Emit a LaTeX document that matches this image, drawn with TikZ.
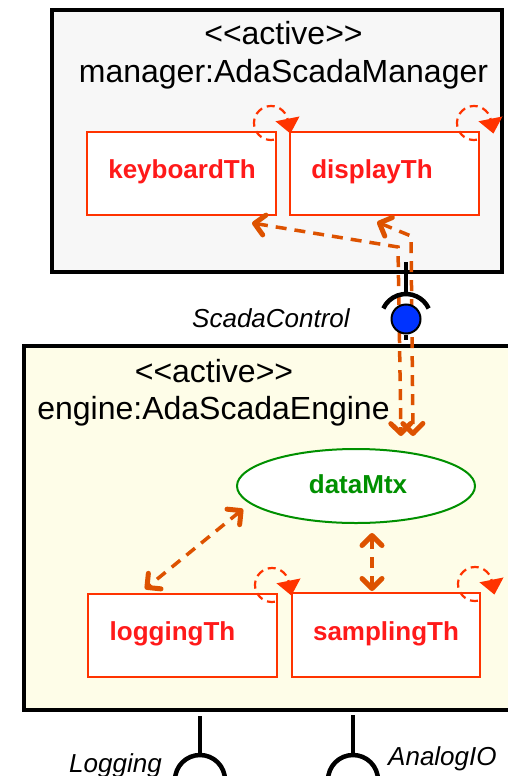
\documentclass[tikz,border=0pt]{standalone}
\usepackage{fontspec}
\setmainfont{Liberation Sans}
\usetikzlibrary{arrows.meta,calc,shapes.geometric}

\definecolor{thred}{HTML}{FF3300}
\definecolor{thtext}{HTML}{FF1A1A}
\definecolor{flow}{HTML}{DD5200}
\definecolor{mtxgreen}{HTML}{009000}
\definecolor{mgrfill}{HTML}{F7F7F7}
\definecolor{engfill}{HTML}{FEFDE8}
\definecolor{ballblue}{HTML}{0033FF}

\tikzset{
  partbox/.style={draw=black, line width=3.2pt, rectangle, inner sep=0pt},
  threadbox/.style={draw=thred, fill=white, line width=2pt, rectangle, inner sep=0pt},
  thlabel/.style={font=\fontsize{26pt}{30pt}\selectfont\bfseries, text=thtext, anchor=base, inner sep=0pt},
  titletext/.style={font=\fontsize{32pt}{38pt}\selectfont, anchor=base, inner sep=0pt},
  portlabel/.style={font=\fontsize{26pt}{30pt}\selectfont\itshape, anchor=base west, inner sep=0pt},
  flowline/.style={draw=flow, line width=3.5pt, dash pattern=on 11pt off 8pt,
    >={Straight Barb[length=10pt,width=20pt,line width=5pt,round]}, <->},
  loopline/.style={draw=thred, line width=2.2pt, dash pattern=on 8pt off 5pt,
    -{Triangle[width=24pt,length=15pt]}},
  portline/.style={draw=black, line width=3.4pt},
  socket/.style={draw=black, line width=4.5pt},
}

% dashed self loop at the top right corner of an active thread
\newcommand\threadloop[1]{%
  \draw[loopline] ($(#1.north east)+(-6,-8)+(80:17)$)
    arc[start angle=80,end angle=345,radius=17] -- ++(3,15);}

\begin{document}
\begin{tikzpicture}[x=1pt,y=-1pt]
\useasboundingbox (0,0) rectangle (507,776);

% composite parts
\node[partbox, fill=mgrfill, minimum width=450pt, minimum height=262pt] (mgr) at (277,141) {};
\node[partbox, fill=engfill, minimum width=488pt, minimum height=364pt] (eng) at (268,528) {};

\node[titletext] (mgrst) at (283.5,45) {<\kern0pt<active>\kern0pt>};
\node[titletext] (mgrname) at (283.5,82) {manager:AdaScadaManager};
\node[titletext] (engst) at (214,382) {<\kern0pt<active>\kern0pt>};
\node[titletext] (engname) at (213.5,419) {engine:AdaScadaEngine};

% threads
\node[threadbox, minimum width=189pt, minimum height=83pt] (kb) at (181.5,173.5) {};
\node[threadbox, minimum width=189pt, minimum height=83pt] (dp) at (384.5,173.5) {};
\node[threadbox, minimum width=189pt, minimum height=83pt] (lg) at (182.5,635.5) {};
\node[threadbox, minimum width=188pt, minimum height=84pt] (sp) at (386,635) {};

\node[thlabel] (kbt) at (182,178) {keyboardTh};
\node[thlabel] (dpt) at (372,178) {displayTh};
\node[thlabel] (lgt) at (172.5,640) {loggingTh};
\node[thlabel] (spt) at (386,640) {samplingTh};

% protected object
\node[ellipse, draw=mtxgreen, fill=white, line width=2pt, inner sep=0pt,
      minimum width=238pt, minimum height=74pt] (mtx) at (356,486) {};
\node[thlabel, text=mtxgreen] (mtxt) at (358,493) {dataMtx};

% data flows
\draw[flowline] ([shift={(70.5,7)}]kb.south) -- (398,247) -- ([shift={(45,-12)}]mtx.north);
\draw[flowline] ([shift={(-7.5,6)}]dp.south) -- (411,236) -- ([shift={(57,-12)}]mtx.north);
\draw[flowline] ([shift={(-113,23)}]mtx.center) -- ([shift={(-37.5,-4)}]lg.north);
\draw[flowline] ([shift={(16,9)}]mtx.south) -- ([shift={(-14,-1)}]sp.north);

% self loops
\threadloop{kb}
\threadloop{dp}
\threadloop{lg}
\threadloop{sp}

% ScadaControl port
\node[circle, draw=black, fill=ballblue, line width=2pt, minimum size=29pt, inner sep=0pt] (scball) at (406,319) {};
\coordinate (sctop) at (406,262);
\draw[portline] (sctop) -- ($(scball)+(0,-25)$);
\draw[socket] ($(scball)+(205:25)$) arc[start angle=205,end angle=335,radius=25];
\draw[portline] (scball.south) -- ++(0,5);
\node[portlabel] (sclab) at (192,327) {ScadaControl};

% required interfaces
\coordinate (logtop) at (200,716);
\draw[portline] (logtop) -- ++(0,39);
\draw[socket] (175,780) arc[start angle=180,end angle=360,radius=25];
\node[portlabel] (loglab) at (69,772) {Logging};

\coordinate (aiotop) at (353,715);
\draw[portline] (aiotop) -- ++(0,40);
\draw[socket] (328,780) arc[start angle=180,end angle=360,radius=25];
\node[portlabel] (aiolab) at (388,765) {AnalogIO};
\end{tikzpicture}
\end{document}
